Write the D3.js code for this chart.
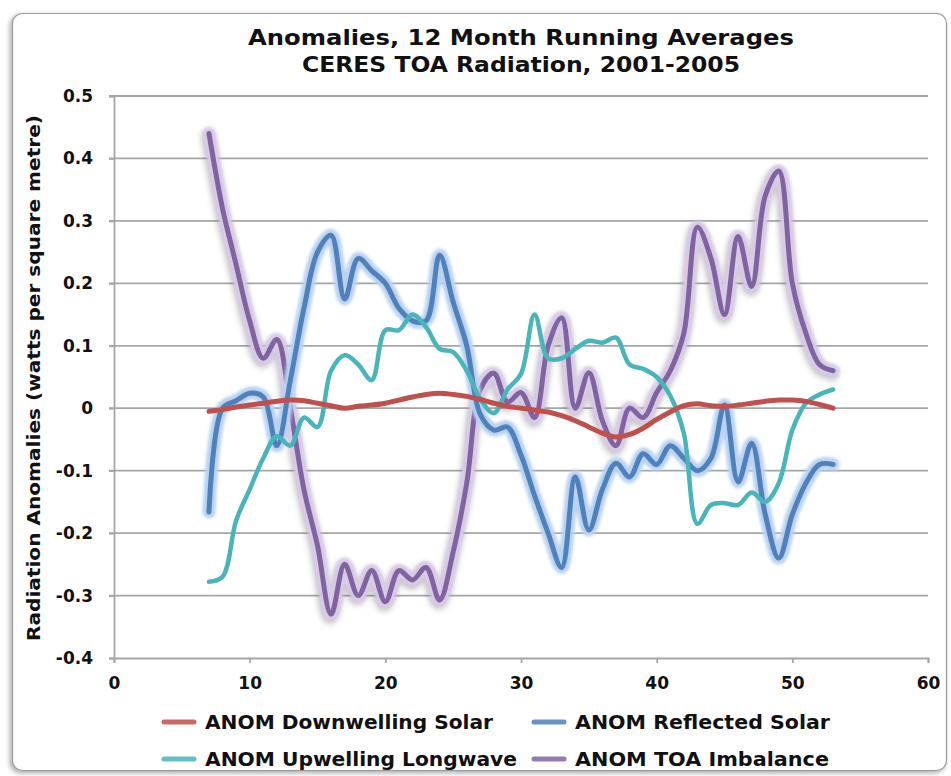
<!DOCTYPE html>
<html>
<head>
<meta charset="utf-8">
<script src="https://cdn.jsdelivr.net/npm/d3@7"></script>
<style>
  html, body { margin: 0; padding: 0; background: #ffffff; }
  svg { display: block; }
  text { font-family: "DejaVu Sans", Verdana, sans-serif; font-weight: bold; fill: #111; }
</style>
</head>
<body>
<svg id="chart" width="951" height="776"></svg>
<script>
// ---- data ----
const months = d3.range(7, 54); // 7..53
const downwellingSolar = [-0.005, -0.002, 0.002, 0.005, 0.008, 0.011, 0.013, 0.012, 0.008, 0.004,
  0.0, 0.003, 0.005, 0.008, 0.013, 0.018, 0.022, 0.024, 0.022, 0.019,
  0.014, 0.008, 0.003, 0.0, -0.003, -0.006, -0.012, -0.02, -0.03, -0.04,
  -0.046, -0.042, -0.032, -0.018, -0.006, 0.004, 0.007, 0.004, 0.003, 0.005,
  0.008, 0.011, 0.013, 0.013, 0.011, 0.006, 0.0];
const reflectedSolar = [-0.166, 0.0, 0.012, 0.024, 0.018, -0.06, 0.045, 0.16, 0.25, 0.277,
  0.175, 0.24, 0.22, 0.2, 0.16, 0.14, 0.14, 0.245, 0.17, 0.1,
  -0.01, -0.035, -0.03, -0.075, -0.14, -0.2, -0.255, -0.11, -0.195, -0.13,
  -0.088, -0.11, -0.073, -0.09, -0.06, -0.08, -0.1, -0.08, 0.005, -0.118,
  -0.056, -0.17, -0.24, -0.17, -0.12, -0.09, -0.09];
const upwellingLongwave = [-0.278, -0.27, -0.18, -0.13, -0.08, -0.045, -0.06, -0.015, -0.03, 0.06,
  0.085, 0.07, 0.045, 0.125, 0.125, 0.15, 0.13, 0.095, 0.09, 0.06,
  0.015, -0.008, 0.03, 0.055, 0.15, 0.08, 0.08, 0.095, 0.108, 0.105,
  0.113, 0.07, 0.063, 0.05, 0.02, -0.04, -0.185, -0.155, -0.152, -0.155,
  -0.135, -0.15, -0.12, -0.035, 0.008, 0.022, 0.03];
const toaImbalance = [0.44, 0.32, 0.23, 0.14, 0.08, 0.11, 0.0, -0.13, -0.22, -0.33,
  -0.25, -0.30, -0.26, -0.31, -0.26, -0.275, -0.255, -0.307, -0.23, -0.12,
  0.03, 0.056, 0.01, 0.025, -0.015, 0.1, 0.145, 0.0, 0.057, -0.02,
  -0.06, 0.0, -0.015, 0.025, 0.06, 0.12, 0.29, 0.24, 0.15, 0.275,
  0.195, 0.34, 0.38, 0.2, 0.12, 0.07, 0.06];
const seriesNames = ["ANOM Downwelling Solar", "ANOM Reflected Solar", "ANOM Upwelling Longwave", "ANOM TOA Imbalance"];
const xTicks = [0, 10, 20, 30, 40, 50, 60];
const yTicks = [-0.4, -0.3, -0.2, -0.1, 0, 0.1, 0.2, 0.3, 0.4, 0.5];
const yTickLabels = ["-0.4", "-0.3", "-0.2", "-0.1", "0", "0.1", "0.2", "0.3", "0.4", "0.5"];
const titleLines = ["Anomalies, 12 Month Running Averages", "CERES TOA Radiation, 2001-2005"];
const yAxisTitle = "Radiation Anomalies (watts per square metre)";

// ---- styles ----
const colors = ["#c0504d", "#4f81bd", "#47b5b9", "#8064a2"];
const widths = [5, 5, 4.5, 5];
const glows  = [null, "#b9d2ef", null, "#d8cbe6"];

const svg = d3.select("#chart");
const defs = svg.append("defs");
const f = defs.append("filter").attr("id", "shadow").attr("x", "-5%").attr("y", "-5%").attr("width", "110%").attr("height", "110%");
f.append("feGaussianBlur").attr("in", "SourceAlpha").attr("stdDeviation", 2.5);
f.append("feOffset").attr("dx", -2).attr("dy", 2).attr("result", "ob");
f.append("feFlood").attr("flood-color", "#000").attr("flood-opacity", 0.35);
f.append("feComposite").attr("in2", "ob").attr("operator", "in");
const fm = f.append("feMerge"); fm.append("feMergeNode"); fm.append("feMergeNode").attr("in", "SourceGraphic");

const gf = defs.append("filter").attr("id", "glow").attr("x", "-10%").attr("y", "-10%").attr("width", "120%").attr("height", "120%");
gf.append("feGaussianBlur").attr("stdDeviation", 1.6);

const ps = defs.append("filter").attr("id", "pshadow").attr("x", "-10%").attr("y", "-10%").attr("width", "120%").attr("height", "120%");
ps.append("feGaussianBlur").attr("stdDeviation", 3);

// frame
svg.append("rect").attr("x", 12.5).attr("y", 13.5).attr("width", 934).attr("height", 757)
  .attr("rx", 10).attr("fill", "#fff").attr("stroke", "#9a9a9a").attr("stroke-width", 1.2)
  .attr("filter", "url(#shadow)");

const L = 114, R = 928, T = 96, B = 658;
const x = d3.scaleLinear().domain([0, 60]).range([L, R]);
const y = d3.scaleLinear().domain([-0.4, 0.5]).range([B, T]);

// gridlines
svg.append("g").selectAll("line").data(yTicks.filter(d => d !== -0.4)).join("line")
  .attr("x1", L - 5).attr("x2", R).attr("y1", d => y(d)).attr("y2", d => y(d))
  .attr("stroke", "#a6a6a6").attr("stroke-width", 1.8);

// y axis
const yAxis = svg.append("g").attr("transform", `translate(${L},0)`)
  .call(d3.axisLeft(y).tickValues(yTicks).tickSize(5).tickPadding(16).tickFormat((d, i) => yTickLabels[i]));
yAxis.select(".domain").attr("stroke", "#a6a6a6").attr("stroke-width", 1.8);
yAxis.selectAll(".tick line").attr("stroke", "#a6a6a6").attr("stroke-width", 1.8);
yAxis.selectAll(".tick text").attr("font-size", 17).attr("font-family", "DejaVu Sans").attr("font-weight", "bold").attr("fill", "#111");

// x axis
const xAxis = svg.append("g").attr("transform", `translate(0,${B})`)
  .call(d3.axisBottom(x).tickValues(xTicks).tickSize(5).tickPadding(14).tickFormat(d3.format("d")));
xAxis.select(".domain").attr("stroke", "#a6a6a6").attr("stroke-width", 1.8);
xAxis.selectAll(".tick line").attr("stroke", "#a6a6a6").attr("stroke-width", 1.8);
xAxis.selectAll(".tick text").attr("font-size", 17).attr("font-family", "DejaVu Sans").attr("font-weight", "bold").attr("fill", "#111");

// series
const allSeries = [downwellingSolar, reflectedSolar, upwellingLongwave, toaImbalance];
const line = d3.line().x((d, i) => x(months[i])).y(d => y(d)).curve(d3.curveCatmullRom.alpha(0.5));
const plotG = svg.append("g");
const order = [3, 1, 2, 0];
order.forEach(k => {
  const data = allSeries[k];
  if (k === 3) {
    plotG.append("path").attr("d", line(data)).attr("fill", "none").attr("stroke", "#000")
      .attr("stroke-opacity", 0.25).attr("stroke-width", 13).attr("stroke-linecap", "round")
      .attr("stroke-linejoin", "round").attr("transform", "translate(-1,3)").attr("filter", "url(#pshadow)");
  }
  if (glows[k]) {
    plotG.append("path").attr("d", line(data)).attr("fill", "none").attr("stroke", glows[k])
      .attr("stroke-width", 13).attr("stroke-linecap", "round").attr("stroke-linejoin", "round")
      .attr("filter", "url(#glow)");
  }
  plotG.append("path").attr("d", line(data)).attr("fill", "none").attr("stroke", colors[k])
    .attr("stroke-width", widths[k]).attr("stroke-linecap", "round").attr("stroke-linejoin", "round");
});

// title
svg.append("g").selectAll("text").data(titleLines).join("text")
  .attr("x", 521).attr("y", (d, i) => 45 + i * 27).attr("text-anchor", "middle")
  .attr("font-size", 21).text(d => d)
  .each(function(d, i) { d3.select(this).attr("textLength", i === 0 ? 546 : 438).attr("lengthAdjust", "spacingAndGlyphs"); });

// y axis title
svg.append("text").attr("transform", "translate(40,378) rotate(-90)").attr("text-anchor", "middle")
  .attr("font-size", 17).attr("textLength", 526).attr("lengthAdjust", "spacingAndGlyphs").text(yAxisTitle);

// legend
const legPos = [[164, 722], [534, 722], [164, 759], [534, 759]];
const textW = [288, 255, 312, 254];
const lg = svg.append("g");
seriesNames.forEach((name, k) => {
  const [lx, ly] = legPos[k];
  lg.append("line").attr("x1", lx).attr("x2", lx + 30).attr("y1", ly).attr("y2", ly)
    .attr("stroke", colors[k]).attr("stroke-width", 5).attr("stroke-linecap", "round").attr("opacity", 0.85);
  lg.append("text").attr("x", lx + 41).attr("y", ly + 7).attr("font-size", 19)
    .attr("textLength", textW[k]).attr("lengthAdjust", "spacingAndGlyphs").text(name);
});
</script>
</body>
</html>
